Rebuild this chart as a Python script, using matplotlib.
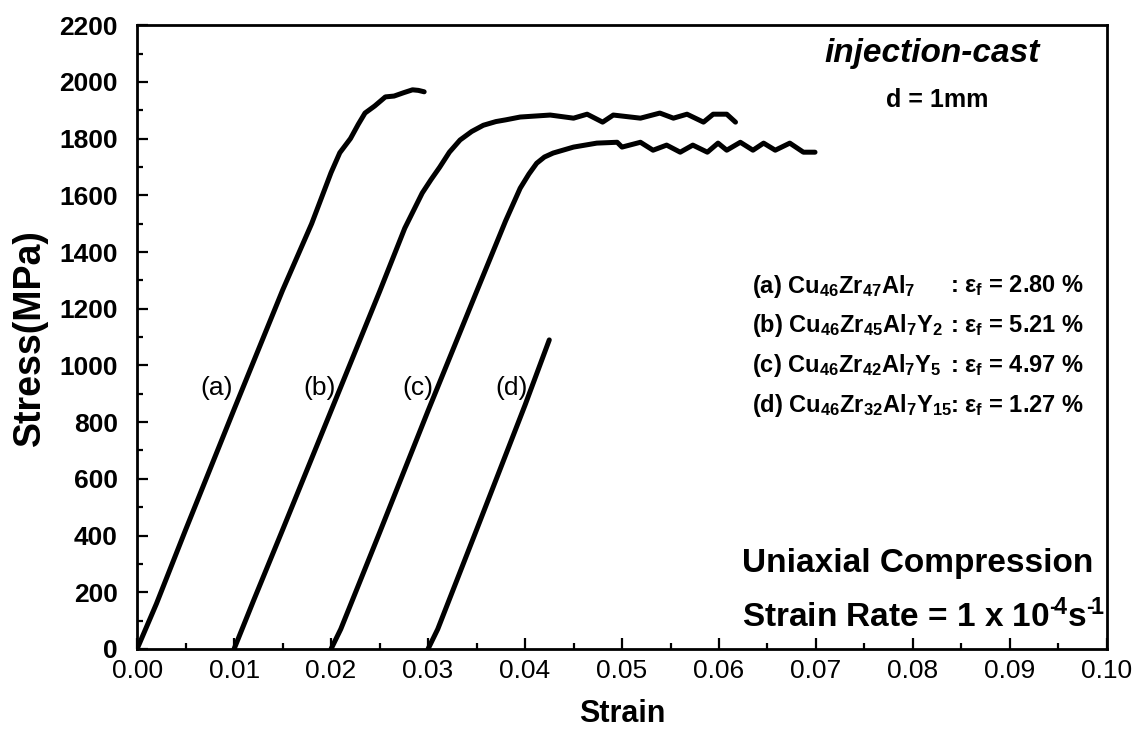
import numpy as np
import matplotlib
matplotlib.use("Agg")
import matplotlib.pyplot as plt
from matplotlib.ticker import MultipleLocator, FormatStrFormatter

plt.rcParams['font.family'] = ['Liberation Sans', 'DejaVu Sans']
plt.rcParams['mathtext.fontset'] = 'custom'
plt.rcParams['mathtext.rm'] = 'Liberation Sans:bold'
plt.rcParams['mathtext.it'] = 'Liberation Sans:bold:italic'
plt.rcParams['mathtext.bf'] = 'Liberation Sans:bold'

# stress-strain curves
a_strain = [0.0, 0.002, 0.005, 0.010, 0.015, 0.018, 0.0200, 0.0209, 0.0220, 0.0228,
            0.0235, 0.0245, 0.0256, 0.0265, 0.0275, 0.0284, 0.0290, 0.0296]
a_stress = [0, 160, 420, 845, 1265, 1500, 1680, 1750, 1800, 1850,
            1890, 1915, 1947, 1950, 1962, 1972, 1970, 1965]

b_strain = [0.0100, 0.0120, 0.0150, 0.0200, 0.0250, 0.0276, 0.0294, 0.0303, 0.0312,
            0.0322, 0.0333, 0.0345, 0.0357, 0.0370, 0.0380, 0.0395, 0.0426, 0.0450,
            0.0464, 0.0480, 0.0491, 0.0519, 0.0539, 0.0553, 0.0567, 0.0584, 0.0594,
            0.0608, 0.0617]
b_stress = [0, 170, 420, 840, 1260, 1484, 1608, 1655, 1699,
            1752, 1795, 1825, 1847, 1860, 1866, 1876, 1883, 1872,
            1886, 1858, 1883, 1872, 1890, 1872, 1886, 1858, 1886,
            1886, 1858]

c_strain = [0.0200, 0.0210, 0.0220, 0.0250, 0.0300, 0.0350, 0.0380, 0.0395, 0.0404,
            0.0412, 0.0420, 0.0429, 0.0450, 0.0474, 0.0495, 0.0500, 0.0519, 0.0532,
            0.0546, 0.0560, 0.0573, 0.0588, 0.0599, 0.0608, 0.0622, 0.0635, 0.0646,
            0.0658, 0.0673, 0.0687, 0.0699]
c_stress = [0, 70, 155, 410, 840, 1260, 1510, 1625, 1675,
            1713, 1735, 1749, 1770, 1784, 1787, 1770, 1787, 1759,
            1777, 1752, 1777, 1752, 1784, 1759, 1787, 1759, 1784,
            1759, 1784, 1752, 1752]

d_strain = [0.0300, 0.0310, 0.0350, 0.0400, 0.0425]
d_stress = [0, 70, 420, 860, 1090]

curve_labels = ["(a)", "(b)", "(c)", "(d)"]
label_x = [0.0082, 0.0188, 0.0290, 0.0386]
label_y = [920, 920, 920, 920]

alloys = [r"(a) Cu$_{46}$Zr$_{47}$Al$_7$",
          r"(b) Cu$_{46}$Zr$_{45}$Al$_7$Y$_2$",
          r"(c) Cu$_{46}$Zr$_{42}$Al$_7$Y$_5$",
          r"(d) Cu$_{46}$Zr$_{32}$Al$_7$Y$_{15}$"]
eps_f = ["2.80", "5.21", "4.97", "1.27"]
row_y = [1280, 1140, 1000, 860]

fig = plt.figure(figsize=(11.33, 7.40), dpi=100)
ax = fig.add_axes([0.121, 0.123, 0.856, 0.843])

for xs, ys in [(a_strain, a_stress), (b_strain, b_stress),
               (c_strain, c_stress), (d_strain, d_stress)]:
    ax.plot(xs, ys, color='black', lw=3.6, solid_capstyle='round', solid_joinstyle='round')

for lab, x, y in zip(curve_labels, label_x, label_y):
    ax.text(x, y, lab, fontsize=19, ha='center', va='center')

ax.text(0.0820, 2100, "injection-cast", fontsize=24, fontweight='bold', style='italic',
        ha='center', va='center')
ax.text(0.0825, 1935, "d = 1mm", fontsize=18, fontweight='bold', ha='center', va='center')

for txt, e, y in zip(alloys, eps_f, row_y):
    ax.text(0.0634, y, txt, fontsize=17, fontweight='bold', ha='left', va='center')
    ax.text(0.0838, y, r": ε$_{\mathrm{f}}$ = " + e + " %", fontsize=17, fontweight='bold',
            ha='left', va='center')

ax.text(0.0624, 300, "Uniaxial Compression", fontsize=24, fontweight='bold',
        ha='left', va='center')
ax.text(0.0624, 115, "Strain Rate = 1 x 10$^{\u2010\\!4}$s$^{\u2010\\!1}$", fontsize=24,
        fontweight='bold', ha='left', va='center')

ax.set_xlim(0, 0.10)
ax.set_ylim(0, 2200)
ax.xaxis.set_major_locator(MultipleLocator(0.01))
ax.xaxis.set_minor_locator(MultipleLocator(0.005))
ax.yaxis.set_major_locator(MultipleLocator(200))
ax.yaxis.set_minor_locator(MultipleLocator(100))
ax.xaxis.set_major_formatter(FormatStrFormatter('%.2f'))
ax.tick_params(which='both', direction='in', top=False, right=False, width=1.6)
ax.tick_params(which='major', length=8)
ax.tick_params(which='minor', length=4)
ax.tick_params(axis='x', labelsize=19, pad=7)
ax.tick_params(axis='y', labelsize=19, pad=14)
for t in ax.get_yticklabels():
    t.set_fontweight('bold')
for s in ax.spines.values():
    s.set_linewidth(2)

ax.set_xlabel("Strain", fontsize=22, fontweight='bold', labelpad=12)
ax.set_ylabel("Stress(MPa)", fontsize=27, fontweight='bold', labelpad=8)

fig.savefig("out.png", dpi=100)
